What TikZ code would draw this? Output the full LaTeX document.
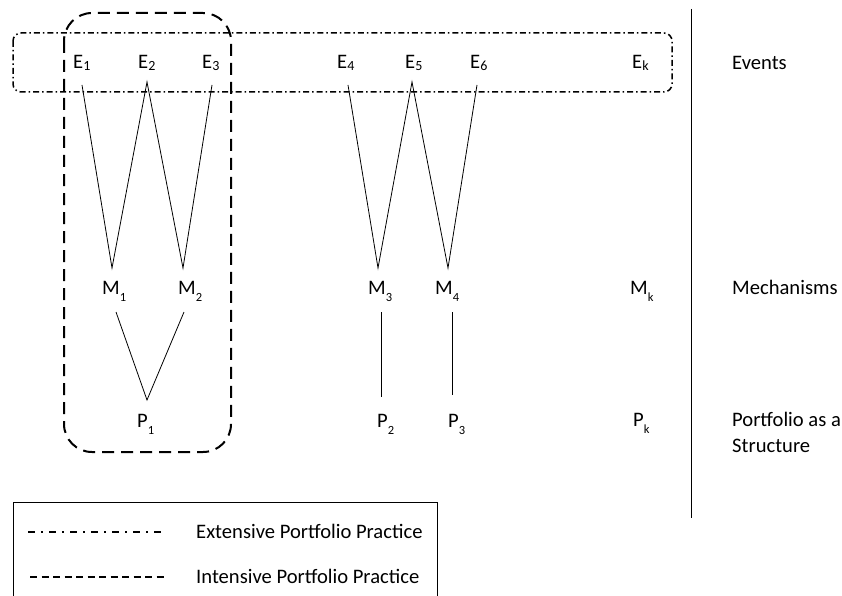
\documentclass[tikz,border=0pt]{standalone}
\usepackage{fontspec}
\setmainfont{Carlito}
\begin{document}
\begin{tikzpicture}[x=1pt,y=-1pt,
  lbl/.style={anchor=base west,inner sep=0pt,font=\fontsize{20.6}{24}\selectfont},
  conn/.style={line width=0.8pt},
  extbox/.style={line width=1.5pt,dash pattern=on 6pt off 3pt on 1.5pt off 3pt},
  intbox/.style={line width=2pt,dash pattern=on 12pt off 7pt},
  extleg/.style={line width=1.5pt,dash pattern=on 7pt off 6pt on 2pt off 6pt},
  intleg/.style={line width=1.5pt,dash pattern=on 7pt off 4.5pt}]
\useasboundingbox (0,0) rectangle (842,596);
\newcommand{\es}[1]{E{\fontsize{14}{16}\selectfont\raisebox{-1.5pt}{#1}}}
\newcommand{\ms}[2]{#1\raisebox{-7pt}{\fontsize{12.5}{15}\selectfont #2}}
% boxes
\draw[extbox,rounded corners=8pt] (13,33) rectangle (672,92);
\draw[intbox,rounded corners=28pt] (64,13) rectangle (231,452);
% separator
\draw[line width=0.9pt] (691,9) -- (691,518);
% event nodes
\node[lbl] (e1) at (73,69) {\es{1}};
\node[lbl] (e2) at (138,69) {\es{2}};
\node[lbl] (e3) at (202,69) {\es{3}};
\node[lbl] (e4) at (337,69) {\es{4}};
\node[lbl] (e5) at (405,69) {\es{5}};
\node[lbl] (e6) at (470,69) {\es{6}};
\node[lbl] (ek) at (632,69) {\es{k}};
% mechanism nodes
\node[lbl] (m1) at (102,294) {\ms{M}{1}};
\node[lbl] (m2) at (178,294) {\ms{M}{2}};
\node[lbl] (m3) at (368,294) {\ms{M}{3}};
\node[lbl] (m4) at (435,294) {\ms{M}{4}};
\node[lbl] (mk) at (630,294) {\ms{M}{k}};
% portfolio nodes
\node[lbl] (p1) at (137,427) {\ms{P}{1}};
\node[lbl] (p2) at (377,427) {\ms{P}{2}};
\node[lbl] (p3) at (448,427) {\ms{P}{3}};
\node[lbl] (pk) at (633,426) {\ms{P}{k}};
% row labels
\node[lbl] (lev) at (732,70) {Events};
\node[lbl] (lme) at (732,294) {Mechanisms};
\node[lbl] (lp1) at (732,426) {Portfolio as a};
\node[lbl] (lp2) at (732,452) {Structure};
% connector endpoints
\coordinate (e1b) at (82,85);
\coordinate (e2b) at (147,82);
\coordinate (e3b) at (212,85);
\coordinate (e4b) at (348,85);
\coordinate (e5b) at (412,82);
\coordinate (e6b) at (477,85);
\coordinate (m1t) at (112,268);
\coordinate (m2t) at (183,268);
\coordinate (m3t) at (378,268);
\coordinate (m4t) at (448,268);
\coordinate (m1b) at (116,312);
\coordinate (m2b) at (184,312);
\coordinate (m3b) at (381,312);
\coordinate (m4b) at (452,312);
\coordinate (p1t) at (147,400);
\coordinate (p2t) at (381,397);
\coordinate (p3t) at (452,395);
% connectors
\draw[conn] (e1b) -- (m1t) -- (e2b) -- (m2t) -- (e3b);
\draw[conn] (e4b) -- (m3t) -- (e5b) -- (m4t) -- (e6b);
\draw[conn] (m1b) -- (p1t) -- (m2b);
\draw[conn] (m3b) -- (p2t);
\draw[conn] (m4b) -- (p3t);
% legend
\draw[line width=0.9pt] (13,620) |- (437,502) -- (437,620);
\coordinate (l1a) at (28,532);
\coordinate (l1b) at (161,532);
\coordinate (l2a) at (30,577);
\coordinate (l2b) at (168,577);
\draw[extleg] (l1a) -- (l1b);
\draw[intleg] (l2a) -- (l2b);
\node[lbl] (t1) at (196,538) {Extensive Portfolio Practice};
\node[lbl] (t2) at (196,583) {Intensive Portfolio Practice};
\end{tikzpicture}
\end{document}
